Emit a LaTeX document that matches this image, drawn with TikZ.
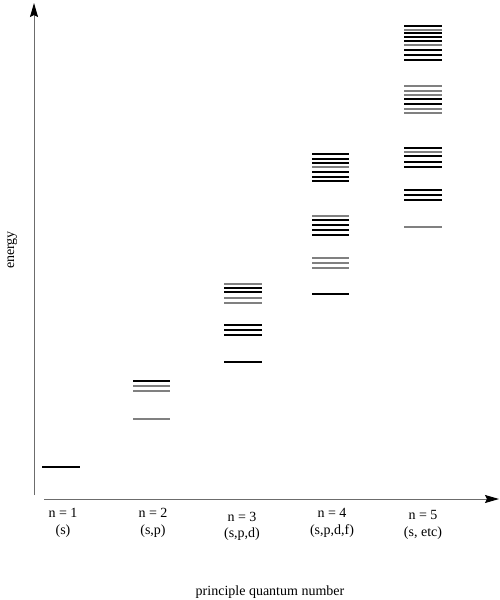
\documentclass[tikz,border=0pt]{standalone}
\usepackage{fontspec}
\setmainfont{Liberation Serif}
\usetikzlibrary{arrows.meta}
\begin{document}
\begin{tikzpicture}[x=1pt,y=-1pt,
  axisline/.style={draw=gray!85!black,line width=1pt,-{Stealth[length=14pt,width=8pt,inset=2pt,color=black]}},
  lk/.style={draw=black,line width=1.3pt},
  lg/.style={draw=black!50,line width=1.3pt},
  lbl/.style={font=\fontsize{14}{15}\selectfont,inner sep=0pt,anchor=base}]
\useasboundingbox (0,0) rectangle (500,600);
% axes
\coordinate (yb) at (34,495);
\coordinate (yt) at (34,3);
\coordinate (xl) at (44,499);
\coordinate (xr) at (499,499);
\draw[axisline] (yb) -- (yt);
\draw[axisline] (xl) -- (xr);
% n = 1
\draw[lk] (42,467) -- (80,467);
% n = 2
\foreach \y/\s in {381/lk,386/lg,391/lg,419/lg}{\draw[\s] (133,\y) -- (170,\y);}
% n = 3
\foreach \y/\s in {284/lg,288/lk,292/lk,298/lg,303/lg,325/lk,330/lk,335/lk,362/lk}{\draw[\s] (224,\y) -- (262,\y);}
% n = 4
\foreach \y/\s in {154/lk,159/lk,163/lk,167/lg,172/lk,177/lk,181/lk,216/lg,220/lk,225/lk,230/lk,235/lk,258/lg,263/lg,268/lg,294/lk}{\draw[\s] (312,\y) -- (349,\y);}
% n = 5
\foreach \y/\s in {26/lk,30/lg,33/lk,37/lk,41/lk,45/lg,50/lk,55/lk,60/lk,86/lg,91/lg,95/lg,99/lk,104/lk,109/lg,113/lg,148/lk,152/lg,156/lk,162/lk,167/lk,190/lk,195/lk,200/lk,227/lg}{\draw[\s] (404,\y) -- (442,\y);}
% labels
\node[lbl] (n1) at (63,517) {n = 1};
\node[lbl] (s1) at (63,534) {(s)};
\node[lbl] (n2) at (153,517) {n = 2};
\node[lbl] (s2) at (153,534) {(s,p)};
\node[lbl] (n3) at (242,521) {n = 3};
\node[lbl] (s3) at (242,537) {(s,p,d)};
\node[lbl] (n4) at (332,517) {n = 4};
\node[lbl] (s4) at (332,534) {(s,p,d,f)};
\node[lbl] (n5) at (423,519) {n = 5};
\node[lbl] (s5) at (423,536) {(s, etc)};
\node[lbl,anchor=center,rotate=90] (en) at (12,250) {energy};
\node[lbl] (pq) at (270,595) {principle quantum number};
\end{tikzpicture}
\end{document}
